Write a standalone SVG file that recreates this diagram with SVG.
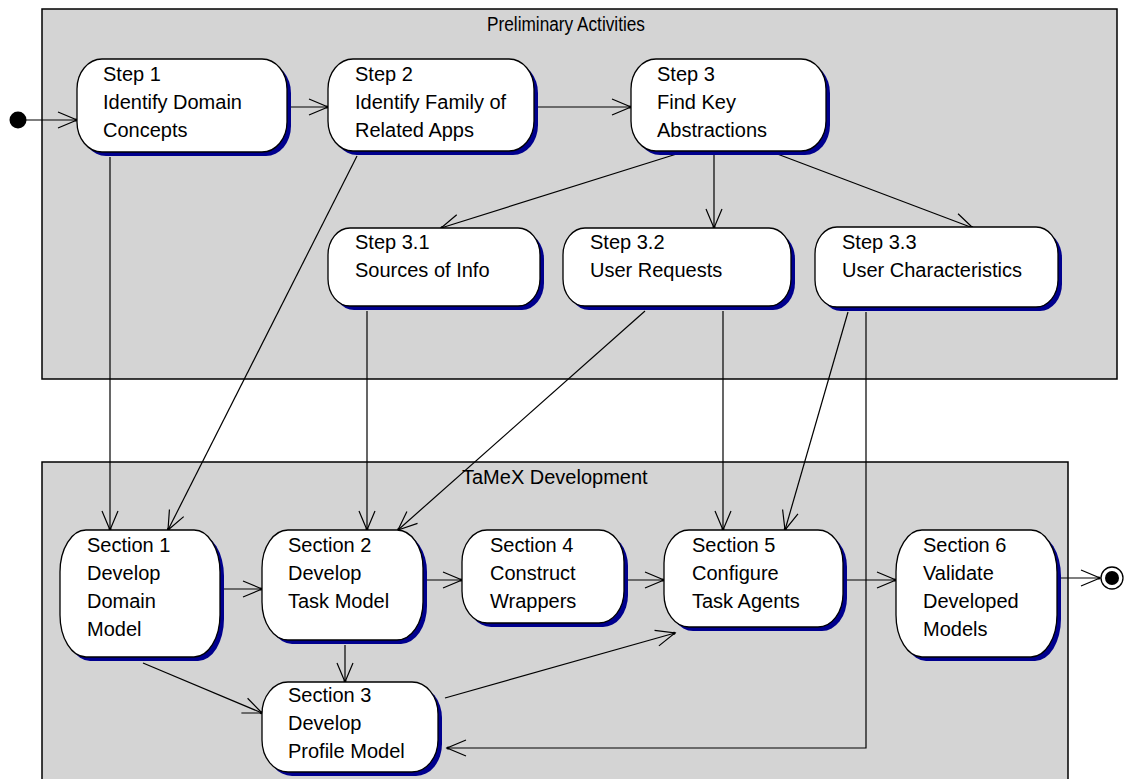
<svg xmlns="http://www.w3.org/2000/svg" width="1133" height="779" viewBox="0 0 1133 779">
<style>
.frame{fill:#d4d4d4;stroke:#000;stroke-width:1.5}
.ftitle{font-family:"Liberation Sans",Arial,sans-serif;font-size:20px;fill:#000}
.shadow{fill:#00008e}
.box{fill:#fff;stroke:#000;stroke-width:1.3}
.t{font-family:"Liberation Sans",Arial,sans-serif;font-size:20px;fill:#000}
.c{fill:none;stroke:#000;stroke-width:1.2}
</style>
<defs>
<marker id="arr" viewBox="-22 -12 24 24" refX="0" refY="0" markerWidth="24" markerHeight="24" markerUnits="userSpaceOnUse" orient="auto">
<path d="M-19,-8 L0,0 L-19,8" fill="none" stroke="#000" stroke-width="1.2"/>
<circle cx="-1" cy="0" r="1.5" fill="#000"/>
</marker>
</defs>
<rect width="1133" height="779" fill="#fff"/>
<g id="frame-preliminary">
<rect class="frame" x="42" y="9" width="1075" height="370"/>
<text class="ftitle" x="487" y="31" textLength="158" lengthAdjust="spacingAndGlyphs">Preliminary Activities</text>
</g>
<g id="frame-tamex">
<rect class="frame" x="42" y="462" width="1026" height="330"/>
<text class="ftitle" x="462" y="484">TaMeX Development</text>
</g>
<g id="connectors">
<line class="c" x1="26" y1="120" x2="77" y2="120" marker-end="url(#arr)"/>
<line class="c" x1="288" y1="107" x2="328" y2="107" marker-end="url(#arr)"/>
<line class="c" x1="535" y1="107" x2="631" y2="107" marker-end="url(#arr)"/>
<line class="c" x1="683" y1="152" x2="441" y2="228" marker-end="url(#arr)"/>
<line class="c" x1="714" y1="152" x2="714" y2="228" marker-end="url(#arr)"/>
<line class="c" x1="772" y1="152" x2="973" y2="228" marker-end="url(#arr)"/>
<line class="c" x1="110" y1="157" x2="110" y2="530" marker-end="url(#arr)"/>
<line class="c" x1="357" y1="156" x2="168" y2="530" marker-end="url(#arr)"/>
<line class="c" x1="367" y1="311" x2="367" y2="530" marker-end="url(#arr)"/>
<line class="c" x1="645" y1="311" x2="398" y2="530" marker-end="url(#arr)"/>
<line class="c" x1="723" y1="311" x2="723" y2="530" marker-end="url(#arr)"/>
<line class="c" x1="848" y1="312" x2="785" y2="530" marker-end="url(#arr)"/>
<polyline class="c" points="866,312 866,748 447,748" marker-end="url(#arr)"/>
<line class="c" x1="222" y1="589" x2="262" y2="589" marker-end="url(#arr)"/>
<line class="c" x1="425" y1="580" x2="462" y2="580" marker-end="url(#arr)"/>
<line class="c" x1="628" y1="580" x2="664" y2="580" marker-end="url(#arr)"/>
<line class="c" x1="846" y1="580" x2="896" y2="580" marker-end="url(#arr)"/>
<line class="c" x1="1060" y1="578" x2="1100" y2="578" marker-end="url(#arr)"/>
<line class="c" x1="345" y1="645" x2="345" y2="682" marker-end="url(#arr)"/>
<line class="c" x1="143" y1="663" x2="262" y2="713" marker-end="url(#arr)"/>
<line class="c" x1="445" y1="698" x2="675" y2="633" marker-end="url(#arr)"/>
</g>
<g id="start"><circle cx="18" cy="120" r="8.5" fill="#000"/></g>
<g id="end"><circle cx="1112" cy="578" r="11" fill="#fff" stroke="#000" stroke-width="1.3"/><circle cx="1112" cy="578" r="7" fill="#000"/></g>
<g id="step1">
<rect class="shadow" x="81" y="63" width="210" height="93" rx="25" ry="30"/>
<rect class="box" x="77" y="59" width="210" height="93" rx="25" ry="30"/>
<text class="t" x="103" y="81">Step 1</text><text class="t" x="103" y="109">Identify Domain</text><text class="t" x="103" y="137">Concepts</text>
</g>
<g id="step2">
<rect class="shadow" x="332" y="63" width="206" height="92" rx="25" ry="30"/>
<rect class="box" x="328" y="59" width="206" height="92" rx="25" ry="30"/>
<text class="t" x="355" y="81">Step 2</text><text class="t" x="355" y="109">Identify Family of</text><text class="t" x="355" y="137">Related Apps</text>
</g>
<g id="step3">
<rect class="shadow" x="635" y="63" width="195" height="92" rx="25" ry="30"/>
<rect class="box" x="631" y="59" width="195" height="92" rx="25" ry="30"/>
<text class="t" x="657" y="81">Step 3</text><text class="t" x="657" y="109">Find Key</text><text class="t" x="657" y="137">Abstractions</text>
</g>
<g id="step31">
<rect class="shadow" x="332" y="232" width="212" height="78" rx="22" ry="27"/>
<rect class="box" x="328" y="228" width="212" height="78" rx="22" ry="27"/>
<text class="t" x="355" y="249">Step 3.1</text><text class="t" x="355" y="277">Sources of Info</text>
</g>
<g id="step32">
<rect class="shadow" x="567" y="232" width="228" height="78" rx="22" ry="27"/>
<rect class="box" x="563" y="228" width="228" height="78" rx="22" ry="27"/>
<text class="t" x="590" y="249">Step 3.2</text><text class="t" x="590" y="277">User Requests</text>
</g>
<g id="step33">
<rect class="shadow" x="819" y="231" width="243" height="80" rx="22" ry="27"/>
<rect class="box" x="815" y="227" width="243" height="80" rx="22" ry="27"/>
<text class="t" x="842" y="249">Step 3.3</text><text class="t" x="842" y="277">User Characteristics</text>
</g>
<g id="section1">
<rect class="shadow" x="64" y="534" width="160" height="127" rx="26" ry="42"/>
<rect class="box" x="60" y="530" width="160" height="127" rx="26" ry="42"/>
<text class="t" x="87" y="552">Section 1</text><text class="t" x="87" y="580">Develop</text><text class="t" x="87" y="608">Domain</text><text class="t" x="87" y="636">Model</text>
</g>
<g id="section2">
<rect class="shadow" x="266" y="534" width="161" height="110" rx="26" ry="38"/>
<rect class="box" x="262" y="530" width="161" height="110" rx="26" ry="38"/>
<text class="t" x="288" y="552">Section 2</text><text class="t" x="288" y="580">Develop</text><text class="t" x="288" y="608">Task Model</text>
</g>
<g id="section4">
<rect class="shadow" x="466" y="534" width="162" height="93" rx="25" ry="32"/>
<rect class="box" x="462" y="530" width="162" height="93" rx="25" ry="32"/>
<text class="t" x="490" y="552">Section 4</text><text class="t" x="490" y="580">Construct</text><text class="t" x="490" y="608">Wrappers</text>
</g>
<g id="section5">
<rect class="shadow" x="668" y="534" width="179" height="97" rx="25" ry="33"/>
<rect class="box" x="664" y="530" width="179" height="97" rx="25" ry="33"/>
<text class="t" x="692" y="552">Section 5</text><text class="t" x="692" y="580">Configure</text><text class="t" x="692" y="608">Task Agents</text>
</g>
<g id="section6">
<rect class="shadow" x="900" y="534" width="161" height="127" rx="26" ry="42"/>
<rect class="box" x="896" y="530" width="161" height="127" rx="26" ry="42"/>
<text class="t" x="923" y="552">Section 6</text><text class="t" x="923" y="580">Validate</text><text class="t" x="923" y="608">Developed</text><text class="t" x="923" y="636">Models</text>
</g>
<g id="section3">
<rect class="shadow" x="266" y="686" width="176" height="90" rx="26" ry="32"/>
<rect class="box" x="262" y="682" width="176" height="90" rx="26" ry="32"/>
<text class="t" x="288" y="702">Section 3</text><text class="t" x="288" y="730">Develop</text><text class="t" x="288" y="758">Profile Model</text>
</g>
</svg>
